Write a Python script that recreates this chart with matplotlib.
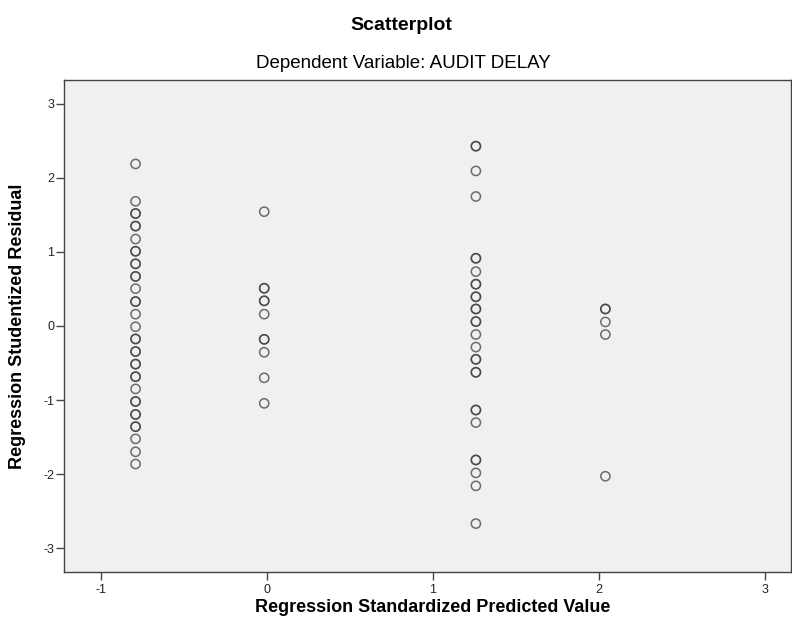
import numpy as np
import matplotlib
matplotlib.use("Agg")
import matplotlib.pyplot as plt

plt.rcParams['font.family'] = ['Liberation Sans', 'DejaVu Sans']

# predicted value groups (x) and studentized residuals (y); repeats = overlapping cases
x_groups = [-0.79, -0.015, 1.26, 2.04]
y_g1 = [2.19, 1.685, 1.52, 1.52, 1.35, 1.35, 1.175, 1.01, 1.01, 0.84, 0.84,
        0.67, 0.67, 0.505, 0.33, 0.33, 0.16, -0.01, -0.175, -0.175,
        -0.345, -0.345, -0.515, -0.515, -0.685, -0.685, -0.85,
        -1.02, -1.02, -1.195, -1.195, -1.36, -1.36, -1.525, -1.70, -1.865]
y_g2 = [1.545, 0.51, 0.51, 0.34, 0.34, 0.16, -0.18, -0.18, -0.355, -0.70, -1.045]
y_g3 = [2.43, 2.43, 2.095, 1.75, 0.915, 0.915, 0.735, 0.565, 0.565, 0.395, 0.395,
        0.23, 0.23, 0.06, 0.06, -0.115, -0.285, -0.45, -0.45, -0.625, -0.625,
        -1.135, -1.135, -1.305, -1.81, -1.81, -1.985, -2.16, -2.67]
y_g4 = [0.23, 0.23, 0.055, -0.115, -2.03]

x_ticks = [-1, 0, 1, 2, 3]
y_ticks = [-3, -2, -1, 0, 1, 2, 3]

fig = plt.figure(figsize=(7.92, 6.31), dpi=100)
ax = fig.add_axes([64/792, 1 - 572/631, 727/792, 492/631])
ax.set_facecolor('#F0F0F0')

for xg, ys in zip(x_groups, [y_g1, y_g2, y_g3, y_g4]):
    ax.scatter(np.full(len(ys), xg), ys, s=44, facecolors='none',
               edgecolors='#404040', linewidths=1.1, alpha=0.75, zorder=3)

ax.set_xlim(-1.221, 3.158)
ax.set_ylim(-3.324, 3.324)
ax.set_xticks(x_ticks)
ax.set_yticks(y_ticks)
ax.set_xticklabels([str(t) for t in x_ticks])
ax.set_yticklabels([str(t) for t in y_ticks])
ax.tick_params(direction='out', length=6, width=1, colors='#444444',
               labelsize=9, labelcolor='#222222')
ax.tick_params(axis='x', pad=2.5)
ax.tick_params(axis='y', pad=0.8)
for sp in ax.spines.values():
    sp.set_color('#444444')
    sp.set_linewidth(1)

fig.text(401/792, 1 - 25/631, 'Scatterplot', ha='center', va='center',
         fontsize=14, fontweight='bold')
fig.text(403/792, 1 - 63/631, 'Dependent Variable: AUDIT DELAY', ha='center',
         va='center', fontsize=13.5)
fig.text(433/792, 1 - 607/631, 'Regression Standardized Predicted Value',
         ha='center', va='center', fontsize=13, fontweight='bold')
fig.text(18/792, 1 - 326/631, 'Regression Studentized Residual', ha='center',
         va='center', rotation=90, fontsize=13, fontweight='bold')

fig.savefig('out.png', dpi=100)
